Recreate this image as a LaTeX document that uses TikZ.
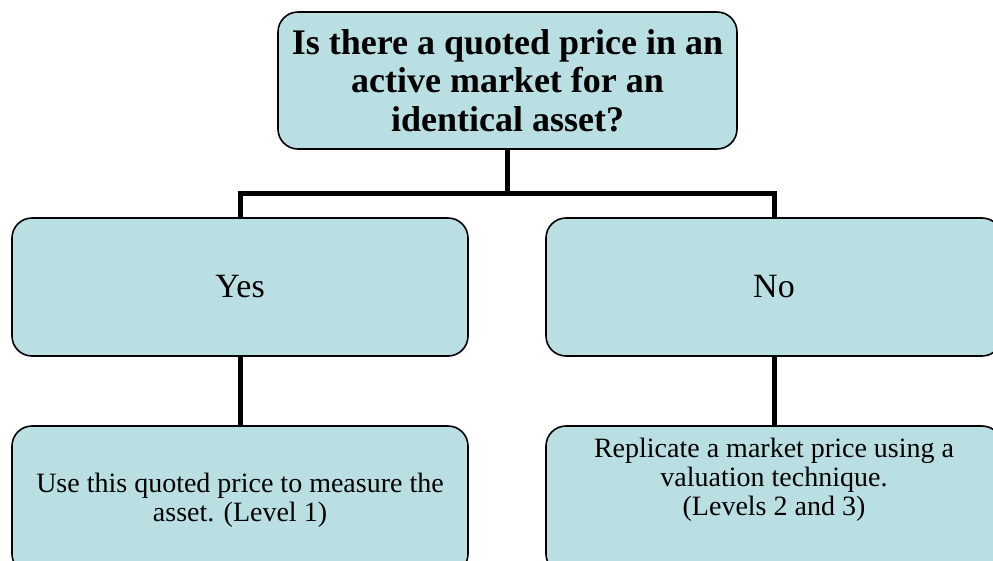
\documentclass[tikz,border=0pt]{standalone}
\usepackage{fontspec}
\setmainfont{Liberation Serif}
\usetikzlibrary{positioning}
\definecolor{boxfill}{RGB}{185,223,226}

\begin{document}
\begin{tikzpicture}[
  x=1pt,y=-1pt,
  box/.style={draw,rounded corners=20pt,line width=1.6pt,fill=boxfill,
    minimum width=456pt,minimum height=138pt,align=center,inner sep=2pt},
  question/.style={box,minimum width=459pt,minimum height=137pt,
    font=\fontsize{36}{38.5}\selectfont\bfseries},
  answer/.style={box,font=\fontsize{34}{38}\selectfont},
  result/.style={box,minimum height=148pt,font=\fontsize{28}{29}\selectfont},
  conn/.style={line width=5pt,line join=miter},
]
\useasboundingbox (0,0) rectangle (993,560);
\clip (0,0) rectangle (993,560);

\node[question] (q) at (507.5,80.5) {Is there a quoted price in an\\active market for an\\identical asset?};

\node[answer] (yes) at (240,287) {Yes};
\node[answer] (no) at (774,287) {No};

\node[result] (use) at (240,500) {Use this quoted price to measure the\\asset. (Level 1)};
\node[result] (repl) at (774,500) {\raisebox{19pt}[\height][\depth]{\begin{tabular}{@{}c@{}}Replicate a market price using a\\valuation technique.\\(Levels 2 and 3)\end{tabular}}};

\coordinate (split) at (507.5,193);
\draw[conn] (q.south) -- (split);
\draw[conn] (yes.north) |- (split) -| (no.north);

\draw[conn] (yes.south) -- (use.north);
\draw[conn] (no.south) -- (repl.north);

\end{tikzpicture}
\end{document}
